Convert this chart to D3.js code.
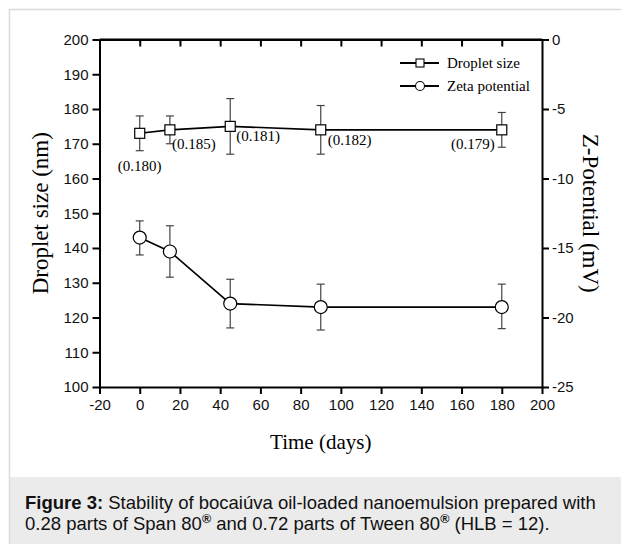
<!DOCTYPE html>
<html>
<head>
<meta charset="utf-8">
<script src="https://cdn.jsdelivr.net/npm/d3@7"></script>
<style>
  html, body { margin: 0; padding: 0; background: #fff; }
  svg { display: block; }
</style>
</head>
<body>
<svg id="chart" width="621" height="544"></svg>
<script>
// Sampling days
const days = [0, 15, 45, 90, 180];

// Droplet size (nm) with lower / upper error limits
const dropletSize = [173, 174, 175, 174, 174];
const dropletLow  = [168, 170, 167, 167, 169];
const dropletHigh = [178, 178, 183, 181, 179];

// Polydispersity index printed next to each droplet-size point
const pdiLabels = ["(0.180)", "(0.185)", "(0.181)", "(0.182)", "(0.179)"];

// Zeta potential (mV) with lower / upper error limits
const zeta     = [-14.25, -15.25, -19.0, -19.25, -19.25];
const zetaLow  = [-15.5, -17.1, -20.75, -20.9, -20.8];
const zetaHigh = [-13.05, -13.4, -17.25, -17.6, -17.6];

// Axis ticks
const xTicks = [-20, 0, 20, 40, 60, 80, 100, 120, 140, 160, 180, 200];
const yLeftTicks = [100, 110, 120, 130, 140, 150, 160, 170, 180, 190, 200];
const yRightTicks = [-25, -20, -15, -10, -5, 0];

const svg = d3.select("#chart");
const serif = "'Liberation Serif', 'Times New Roman', serif";
const sans = "'Liberation Sans', Arial, Helvetica, sans-serif";
const plain = d => String(d);   // keeps the ASCII hyphen for negatives

// Figure frame and caption panel
svg.append("rect").attr("x", 0).attr("y", 0).attr("width", 621).attr("height", 544).attr("fill", "#fff");
svg.append("rect").attr("x", 9).attr("y", 477).attr("width", 612).attr("height", 67).attr("fill", "#ebebeb");
svg.append("path").attr("d", "M9.5,544V9.5H621").attr("fill", "none").attr("stroke", "#dcdcdc").attr("stroke-width", 1.5);

const x = d3.scaleLinear().domain([-20, 200]).range([99.5, 542]);
const yL = d3.scaleLinear().domain([100, 200]).range([387, 39.5]);
const yR = d3.scaleLinear().domain([-25, 0]).range([387, 39.5]);

const axisStyle = g => {
  g.selectAll("path, line").attr("stroke", "#000").attr("stroke-width", 2);
  g.selectAll("text").attr("font-family", sans).attr("font-size", 15).attr("fill", "#111");
};

// Bottom axis
svg.append("g").attr("transform", `translate(0,${yL(100)})`)
  .call(d3.axisBottom(x).tickValues(xTicks).tickFormat(plain).tickSize(7).tickSizeOuter(0).tickPadding(5))
  .call(axisStyle);

// Top axis: inward ticks, no labels
svg.append("g").attr("transform", `translate(0,${yL(200)})`)
  .call(d3.axisBottom(x).tickValues(xTicks.slice(1, -1)).tickFormat("").tickSize(7).tickSizeOuter(0))
  .call(axisStyle);
svg.append("line").attr("x1", x(-20)).attr("x2", x(200)).attr("y1", yL(200)).attr("y2", yL(200))
  .attr("stroke", "#000").attr("stroke-width", 2);

// Left axis
svg.append("g").attr("transform", `translate(${x(-20)},0)`)
  .call(d3.axisLeft(yL).tickValues(yLeftTicks).tickFormat(plain).tickSize(7).tickSizeOuter(0).tickPadding(4))
  .call(axisStyle);

// Right axis
svg.append("g").attr("transform", `translate(${x(200)},0)`)
  .call(d3.axisRight(yR).tickValues(yRightTicks).tickFormat(plain).tickSize(7).tickSizeOuter(0).tickPadding(3))
  .call(axisStyle);

// Axis titles
svg.append("text").attr("transform", `translate(40,${(yL(100) + yL(200)) / 2}) rotate(-90)`)
  .attr("text-anchor", "middle").attr("dominant-baseline", "central")
  .attr("font-family", serif).attr("font-size", 23).text("Droplet size (nm)");
svg.append("text").attr("transform", `translate(590,${(yL(100) + yL(200)) / 2}) rotate(90)`)
  .attr("text-anchor", "middle").attr("dominant-baseline", "central")
  .attr("font-family", serif).attr("font-size", 23).text("Z-Potential (mV)");
svg.append("text").attr("x", (x(-20) + x(200)) / 2).attr("y", 442)
  .attr("text-anchor", "middle").attr("dominant-baseline", "central")
  .attr("font-family", serif).attr("font-size", 21).text("Time (days)");

// Error bars
function errorBars(yScale, lows, highs) {
  const g = svg.append("g").attr("stroke", "#444").attr("stroke-width", 1.2);
  days.forEach((d, i) => {
    const cx = x(d), y1 = yScale(lows[i]), y2 = yScale(highs[i]);
    g.append("line").attr("x1", cx).attr("x2", cx).attr("y1", y1).attr("y2", y2);
    g.append("line").attr("x1", cx - 4).attr("x2", cx + 4).attr("y1", y1).attr("y2", y1);
    g.append("line").attr("x1", cx - 4).attr("x2", cx + 4).attr("y1", y2).attr("y2", y2);
  });
}
errorBars(yL, dropletLow, dropletHigh);
errorBars(yR, zetaLow, zetaHigh);

// Connecting lines
const line = yScale => d3.line().x((d, i) => x(days[i])).y(d => yScale(d));
svg.append("path").datum(dropletSize).attr("d", line(yL))
  .attr("fill", "none").attr("stroke", "#000").attr("stroke-width", 1.6);
svg.append("path").datum(zeta).attr("d", line(yR))
  .attr("fill", "none").attr("stroke", "#000").attr("stroke-width", 1.6);

// Markers
svg.append("g").selectAll("rect").data(dropletSize).join("rect")
  .attr("x", (d, i) => x(days[i]) - 5).attr("y", d => yL(d) - 5)
  .attr("width", 10).attr("height", 10)
  .attr("fill", "#fff").attr("stroke", "#000").attr("stroke-width", 1.2);
svg.append("g").selectAll("circle").data(zeta).join("circle")
  .attr("cx", (d, i) => x(days[i])).attr("cy", d => yR(d)).attr("r", 6.5)
  .attr("fill", "#fff").attr("stroke", "#000").attr("stroke-width", 1.2);

// PDI annotations
const pdiOffsets = [[0, 33, "middle"], [2, 14, "start"], [6, 10, "start"], [7, 10, "start"], [-7, 14, "end"]];
svg.append("g").selectAll("text").data(pdiLabels).join("text")
  .attr("x", (d, i) => x(days[i]) + pdiOffsets[i][0])
  .attr("y", (d, i) => yL(dropletSize[i]) + pdiOffsets[i][1])
  .attr("text-anchor", (d, i) => pdiOffsets[i][2])
  .attr("dominant-baseline", "central")
  .attr("font-family", serif).attr("font-size", 15).text(d => d);

// Legend
const legend = [
  { label: "Droplet size", shape: "square", y: 63 },
  { label: "Zeta potential", shape: "circle", y: 86 }
];
const lg = svg.append("g");
legend.forEach(item => {
  lg.append("line").attr("x1", 400).attr("x2", 439).attr("y1", item.y).attr("y2", item.y)
    .attr("stroke", "#000").attr("stroke-width", 2);
  if (item.shape === "square") {
    lg.append("rect").attr("x", 416).attr("y", item.y - 4).attr("width", 8).attr("height", 8)
      .attr("fill", "#fff").attr("stroke", "#000").attr("stroke-width", 1.1);
  } else {
    lg.append("circle").attr("cx", 420).attr("cy", item.y).attr("r", 4.5)
      .attr("fill", "#fff").attr("stroke", "#000").attr("stroke-width", 1.1);
  }
  lg.append("text").attr("x", 447).attr("y", item.y).attr("dominant-baseline", "central")
    .attr("font-family", serif).attr("font-size", 15).text(item.label);
});

// Caption
const cap = svg.append("g").attr("font-family", sans).attr("font-size", 18.5).attr("fill", "#111");
const l1 = cap.append("text").attr("x", 25).attr("y", 509);
l1.append("tspan").attr("font-weight", "bold").text("Figure 3:");
l1.append("tspan").text(" Stability of bocaiúva oil-loaded nanoemulsion prepared with");
const l2 = cap.append("text").attr("x", 25).attr("y", 530);
l2.append("tspan").text("0.28 parts of Span 80");
l2.append("tspan").attr("font-size", 12.5).attr("font-weight", "bold").attr("dy", -7).text("®");
l2.append("tspan").attr("dy", 7).text(" and 0.72 parts of Tween 80");
l2.append("tspan").attr("font-size", 12.5).attr("font-weight", "bold").attr("dy", -7).text("®");
l2.append("tspan").attr("dy", 7).text(" (HLB = 12).");
</script>
</body>
</html>
